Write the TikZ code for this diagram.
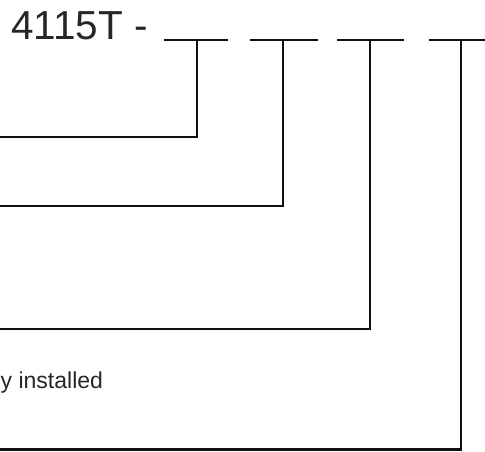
\documentclass[tikz,border=0pt]{standalone}
\usepackage{fontspec}
\setmainfont{Liberation Sans}
\definecolor{txt}{HTML}{262626}
\definecolor{ln}{HTML}{111111}
\tikzset{
  lead/.style={draw=ln, line width=2.2pt, line cap=butt, line join=miter},
  blank/.style={draw=ln, line width=2.2pt},
  lbl/.style={inner sep=0pt, text=txt}
}
\begin{document}
\begin{tikzpicture}[x=1pt,y=-1pt]
\useasboundingbox (0,0) rectangle (485,451);
\node[lbl, anchor=base west, font=\fontsize{40.5}{42}\selectfont] (code) at (11,39) {4115T -};
\node[lbl, anchor=base west, font=\fontsize{23}{25}\selectfont] (inst) at (0.5,388) {y installed};
% blanks
\coordinate (b1l) at (164,40); \coordinate (b1r) at (228,40);
\coordinate (b2l) at (250,40); \coordinate (b2r) at (318,40);
\coordinate (b3l) at (337,40); \coordinate (b3r) at (404,40);
\coordinate (b4l) at (429,40); \coordinate (b4r) at (486,40);
\draw[blank] (b1l) -- (b1r);
\draw[blank] (b2l) -- (b2r);
\draw[blank] (b3l) -- (b3r);
\draw[blank] (b4l) -- (b4r);
% leaders
\coordinate (t1) at (197,40); \coordinate (e1) at (-1,137);
\coordinate (t2) at (283,40); \coordinate (e2) at (-1,206);
\coordinate (t3) at (370,40); \coordinate (e3) at (-1,329);
\coordinate (t4) at (461,40); \coordinate (e4) at (-1,449.5);
\draw[lead] (t1) |- (e1);
\draw[lead] (t2) |- (e2);
\draw[lead] (t3) |- (e3);
\draw[lead] (t4) |- (e4);
\end{tikzpicture}
\end{document}
